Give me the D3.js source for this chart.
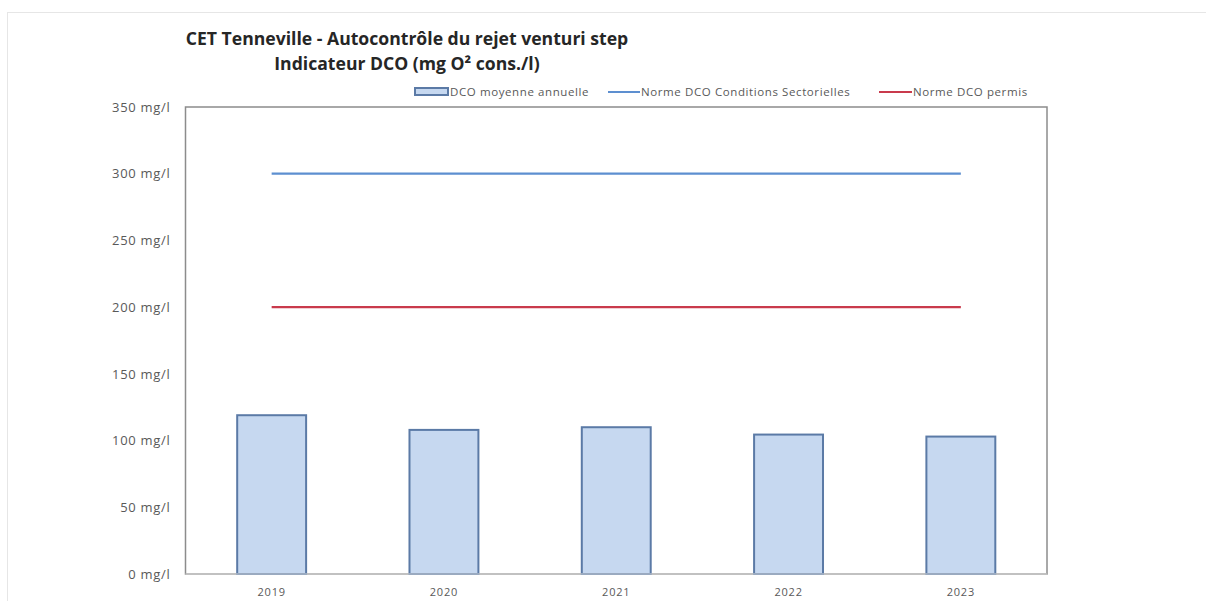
<!DOCTYPE html>
<html>
<head>
<meta charset="utf-8">
<script src="https://cdn.jsdelivr.net/npm/d3@7"></script>
<style>
  html, body { margin: 0; padding: 0; background: #fff; }
  svg { display: block; }
</style>
</head>
<body>
<svg id="chart" width="1206" height="601"></svg>
<script>
const years = ["2019", "2020", "2021", "2022", "2023"];
const dcoMoyenne = [119, 108, 110, 104.5, 103];
const normeSectorielles = [300, 300, 300, 300, 300];
const normePermis = [200, 200, 200, 200, 200];
const yTicks = [0, 50, 100, 150, 200, 250, 300, 350];
const titleLines = ["CET Tenneville - Autocontrôle du rejet venturi step", "Indicateur DCO (mg O² cons./l)"];
const legendLabels = ["DCO moyenne annuelle", "Norme DCO Conditions Sectorielles", "Norme DCO permis"];

const svg = d3.select("#chart");
const plot = { left: 185.5, right: 1047, top: 107, bottom: 574 };

// page frame
svg.append("rect").attr("x", 7.5).attr("y", 12.5).attr("width", 1300).attr("height", 700)
  .attr("fill", "none").attr("stroke", "#e6e6e6").attr("stroke-width", 1);

const x = d3.scaleBand().domain(years).range([plot.left, plot.right]).paddingInner(0.6).paddingOuter(0.3);
const y = d3.scaleLinear().domain([0, 350]).range([plot.bottom, plot.top]);

// title
const title = svg.append("g").attr("font-family", "'Open Sans', sans-serif")
  .attr("font-weight", "bold").attr("fill", "#262626").attr("text-anchor", "middle");
title.selectAll("text").data(titleLines).join("text")
  .attr("x", 407).attr("y", (d, i) => 45 + i * 25)
  .attr("font-size", 17.6).text(d => d);

// plot border
svg.append("rect").attr("x", plot.left).attr("y", plot.top)
  .attr("width", plot.right - plot.left).attr("height", plot.bottom - plot.top)
  .attr("fill", "none").attr("stroke", "#8c8c8c").attr("stroke-width", 1.5);

// y axis
const yAxis = d3.axisLeft(y).tickValues(yTicks).tickSize(0).tickPadding(15)
  .tickFormat(d => d + " mg/l");
const yg = svg.append("g").attr("transform", `translate(${plot.left},0)`).call(yAxis);
yg.select(".domain").remove();
yg.selectAll("text").attr("font-family", "'Open Sans', sans-serif").attr("font-size", 13)
  .attr("letter-spacing", 0.7).attr("fill", "#595959");

// bars
svg.append("g").selectAll("rect").data(years).join("rect")
  .attr("x", d => x(d)).attr("width", x.bandwidth())
  .attr("y", (d, i) => y(dcoMoyenne[i])).attr("height", (d, i) => y(0) - y(dcoMoyenne[i]))
  .attr("fill", "#c6d8f0").attr("stroke", "#5b7aa6").attr("stroke-width", 2);

// bottom axis line
svg.append("line").attr("x1", plot.left).attr("x2", plot.right)
  .attr("y1", plot.bottom).attr("y2", plot.bottom).attr("stroke", "#d9d9d9").attr("stroke-width", 1.2);

// x axis labels
const xAxis = d3.axisBottom(x).tickSize(0).tickPadding(14);
const xg = svg.append("g").attr("transform", `translate(0,${plot.bottom})`).call(xAxis);
xg.select(".domain").remove();
xg.selectAll("text").attr("font-family", "'Open Sans', sans-serif").attr("font-size", 11)
  .attr("letter-spacing", 0.8).attr("fill", "#595959");

// norm lines
const line = d3.line().x((d, i) => x(years[i]) + x.bandwidth() / 2).y(d => y(d));
svg.append("path").datum(normeSectorielles).attr("d", line)
  .attr("fill", "none").attr("stroke", "#5d8fd0").attr("stroke-width", 2.2);
svg.append("path").datum(normePermis).attr("d", line)
  .attr("fill", "none").attr("stroke", "#c93a4c").attr("stroke-width", 2.2);

// legend
const lg = svg.append("g").attr("font-family", "'Open Sans', sans-serif").attr("font-size", 11.5)
  .attr("letter-spacing", 0.6).attr("fill", "#595959");
lg.append("rect").attr("x", 415).attr("y", 88).attr("width", 33).attr("height", 7)
  .attr("fill", "#c6d8f0").attr("stroke", "#5b7aa6").attr("stroke-width", 2);
lg.append("line").attr("x1", 608).attr("x2", 640).attr("y1", 92).attr("y2", 92)
  .attr("stroke", "#5d8fd0").attr("stroke-width", 2);
lg.append("line").attr("x1", 879).attr("x2", 912).attr("y1", 92).attr("y2", 92)
  .attr("stroke", "#c93a4c").attr("stroke-width", 2);
const legendX = [450, 641, 913];
lg.selectAll("text").data(legendLabels).join("text")
  .attr("x", (d, i) => legendX[i]).attr("y", 96).text(d => d);
</script>
</body>
</html>
